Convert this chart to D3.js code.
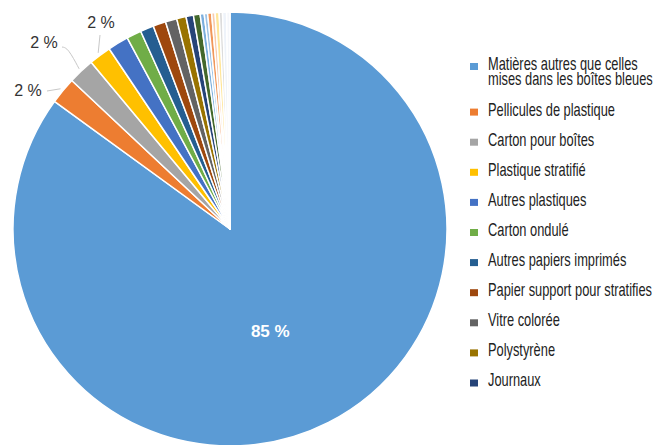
<!DOCTYPE html>
<html>
<head>
<meta charset="utf-8">
<script src="https://cdn.jsdelivr.net/npm/d3@7"></script>
<style>
  html, body { margin: 0; padding: 0; background: #ffffff; }
  svg { display: block; }
  .legend text { font-family: "Liberation Sans", Arial, sans-serif; fill: #222; }
  .dlabel { font-family: "Liberation Sans", Arial, sans-serif; }
</style>
</head>
<body>
<script>
// ---- data ----
const categories = [
  "Matières autres que celles mises dans les boîtes bleues",
  "Pellicules de plastique",
  "Carton pour boîtes",
  "Plastique stratifié",
  "Autres plastiques",
  "Carton ondulé",
  "Autres papiers imprimés",
  "Papier support pour stratifies",
  "Vitre colorée",
  "Polystyrène",
  "Journaux",
  "Autre 12", "Autre 13", "Autre 14", "Autre 15", "Autre 16", "Autre 17", "Autre 18", "Autre 19", "Autre 20"
];
const values = [85, 2.0, 1.95, 1.65, 1.55, 1.1, 1.0, 0.95, 0.85, 0.7, 0.55, 0.5, 0.3, 0.25, 0.3, 0.25, 0.3, 0.25, 0.3, 0.25];
const dataLabels = ["85 %", "2 %", "2 %", "2 %"];
const legendLines = [
  ["Matières autres que celles", "mises dans les boîtes bleues"],
  ["Pellicules de plastique"],
  ["Carton pour boîtes"],
  ["Plastique stratifié"],
  ["Autres plastiques"],
  ["Carton ondulé"],
  ["Autres papiers imprimés"],
  ["Papier support pour stratifies"],
  ["Vitre colorée"],
  ["Polystyrène"],
  ["Journaux"]
];
const colors = ["#5b9bd5", "#ed7d31", "#a5a5a5", "#ffc000", "#4472c4", "#70ad47",
  "#255e91", "#9e480e", "#636363", "#997300", "#264478", "#43682b",
  "#7cafdd", "#9dc3e6", "#f1975a", "#f8cbad", "#ffe699", "#dcdcdc", "#eef3fa", "#f5f7fb"];

// ---- layout ----
const W = 657, H = 445;
const cx = 230, cy = 229, R = 217;
const outsideLabelLayout = {
  1: { tx: 28, ty: 96, path: [[47, 91]] },
  2: { tx: 44, ty: 48, path: [[68, 48], [62, 47]] },
  3: { tx: 101, ty: 28, path: [[100, 35]] }
};
const legendX = 470, legendTextX = 488, legendY0 = 66.5, legendStep = 30.1, legendLineH = 15.5;
const legendFont = 18;
const legendRefWidth = 127; // width of "Pellicules de plastique" in the reference (condensed face)

const svg = d3.select("body").append("svg").attr("width", W).attr("height", H);
const g = svg.append("g").attr("transform", `translate(${cx},${cy})`);

const pie = d3.pie().sort(null).value(d => d.v).startAngle(0).endAngle(2 * Math.PI);
const data = categories.map((c, i) => ({ c, v: values[i], i }));
const arcs = pie(data);
const arc = d3.arc().innerRadius(0).outerRadius(R);

g.selectAll("path.slice").data(arcs).enter().append("path")
  .attr("class", "slice")
  .attr("d", arc)
  .attr("fill", d => colors[d.data.i])
  .attr("stroke", "#ffffff")
  .attr("stroke-width", 1.5)
  .attr("stroke-linejoin", "round");

const c0 = arc.centroid(arcs[0]);
g.append("text").attr("class", "dlabel")
  .attr("x", c0[0] - 9).attr("y", c0[1] + 11)
  .attr("text-anchor", "middle")
  .attr("fill", "#ffffff").attr("font-weight", "bold").attr("font-size", 17)
  .text(dataLabels[0]);

const edgeArc = d3.arc().innerRadius(R + 3).outerRadius(R + 3);
[1, 2, 3].forEach(i => {
  const p = edgeArc.centroid(arcs[i]);
  const L = outsideLabelLayout[i];
  const pts = [[p[0] + cx, p[1] + cy]].concat(L.path);
  svg.append("path")
    .attr("d", d3.line().curve(d3.curveBasis)(pts))
    .attr("fill", "none").attr("stroke", "#c8c8c8").attr("stroke-width", 1);
  svg.append("text").attr("class", "dlabel")
    .attr("x", L.tx).attr("y", L.ty)
    .attr("text-anchor", "middle")
    .attr("fill", "#333").attr("font-size", 16)
    .text(dataLabels[i]);
});

// legend (text compressed horizontally to mimic the condensed face)
const legend = svg.append("g").attr("class", "legend");
const textG = legend.append("g");
let y = legendY0;
let probe = null;
legendLines.forEach((lines, i) => {
  legend.append("rect").attr("x", legendX).attr("y", y - 3.5).attr("width", 8).attr("height", 7)
    .attr("fill", colors[i]);
  lines.forEach((t, k) => {
    const tx = textG.append("text").attr("x", 0).attr("y", y + 3.5 + k * legendLineH)
      .attr("font-size", legendFont).text(t);
    if (i === 1) probe = tx;
  });
  y += legendStep + (lines.length - 1) * legendLineH;
});
const sx = legendRefWidth / probe.node().getComputedTextLength();
textG.attr("transform", `translate(${legendTextX},0) scale(${sx},1)`);
</script>
</body>
</html>
